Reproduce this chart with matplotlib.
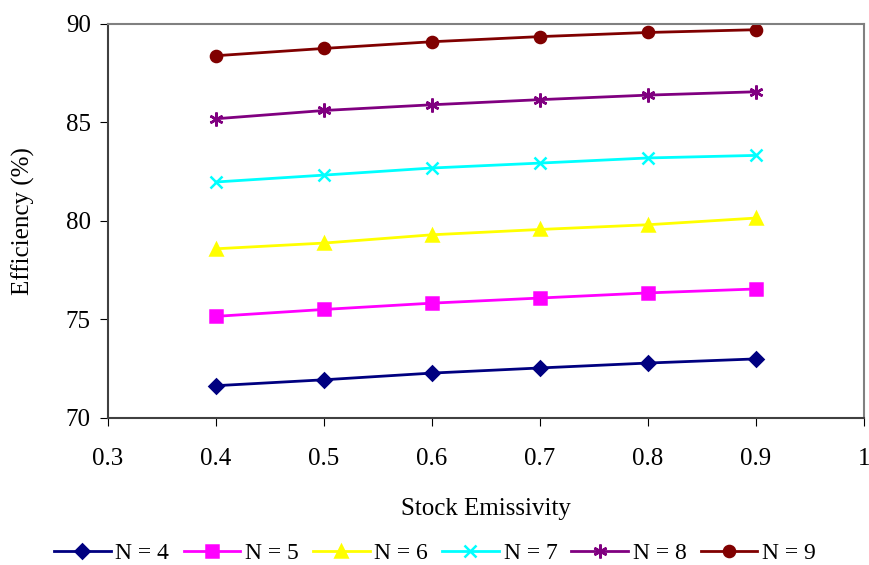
import matplotlib
matplotlib.use("Agg")
import matplotlib.pyplot as plt

plt.rcParams['font.family'] = ['Liberation Serif', 'DejaVu Serif']

emissivity = [0.4, 0.5, 0.6, 0.7, 0.8, 0.9]
eff_n4 = [71.64, 71.94, 72.28, 72.54, 72.79, 73.00]
eff_n5 = [75.16, 75.51, 75.83, 76.09, 76.35, 76.55]
eff_n6 = [78.59, 78.88, 79.30, 79.57, 79.81, 80.15]
eff_n7 = [81.98, 82.33, 82.69, 82.94, 83.20, 83.33]
eff_n8 = [85.19, 85.61, 85.90, 86.16, 86.39, 86.56]
eff_n9 = [88.39, 88.76, 89.10, 89.36, 89.57, 89.71]
labels = ["N = 4", "N = 5", "N = 6", "N = 7", "N = 8", "N = 9"]

series = [eff_n4, eff_n5, eff_n6, eff_n7, eff_n8, eff_n9]
colors = ["#000080", "#FF00FF", "#FFFF00", "#00FFFF", "#800080", "#800000"]
markers = ["D", "s", "^", "x", (6, 2, 0), "o"]
msizes = [7.5, 8, 9, 9, 10, 8]

fig = plt.figure(figsize=(8.7, 5.65), dpi=100)
# axes box: x 108..864 px, y 24..418 px
ax = fig.add_axes([108 / 870, 1 - 418 / 565, 756 / 870, 394 / 565])

for ys, c, m, ms, lab in zip(series, colors, markers, msizes, labels):
    ax.plot(emissivity, ys, color=c, lw=2, marker=m, ms=ms, mew=1.8, label=lab)

ax.set_xlim(0.3, 1.0)
ax.set_ylim(70, 90)
ax.set_xticks([0.3, 0.4, 0.5, 0.6, 0.7, 0.8, 0.9, 1.0])
ax.set_xticklabels(["0.3", "0.4", "0.5", "0.6", "0.7", "0.8", "0.9", "1"])
ax.set_yticks([70, 75, 80, 85, 90])
ax.tick_params(labelsize=18, direction="out", length=5.5, color="black")
ax.tick_params(axis="x", pad=16)
ax.tick_params(axis="y", pad=7)
for side in ["top", "right"]:
    ax.spines[side].set_color("#808080")
for side in ["left", "bottom"]:
    ax.spines[side].set_color("#404040")
for s in ax.spines.values():
    s.set_linewidth(1.5)

ax.set_xlabel("Stock Emissivity", fontsize=18, labelpad=20)
ax.set_ylabel("Efficiency (%)", fontsize=18, labelpad=22)

fig.legend(loc="center", bbox_to_anchor=(0.5, 1 - 553 / 565), ncol=6, frameon=False,
           fontsize=17, handlelength=2.4, handletextpad=0.2, columnspacing=0.6)

fig.savefig("out.png", dpi=100)
